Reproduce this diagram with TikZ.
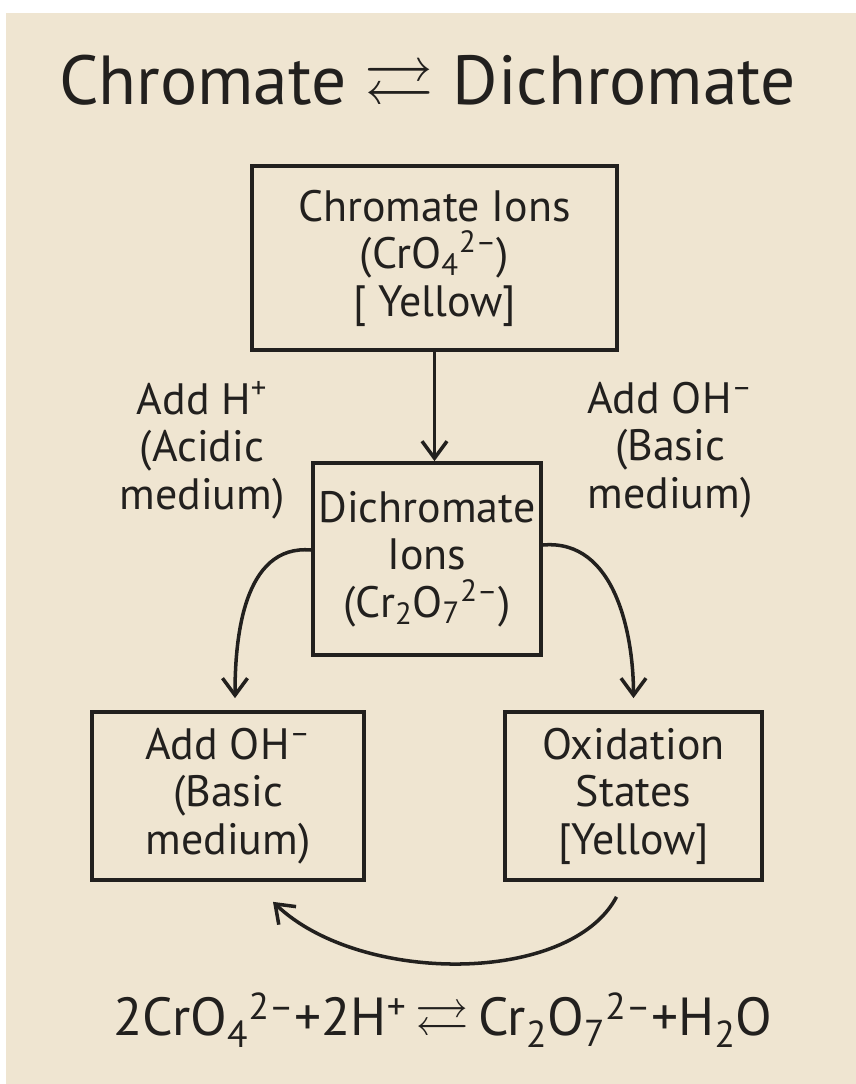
\documentclass[tikz,border=0pt]{standalone}
\usepackage{fontspec}
\usepackage{amssymb}
\setmainfont{PT Sans}
\usetikzlibrary{arrows.meta}

\definecolor{paper}{RGB}{239,229,209}
\definecolor{ink}{RGB}{34,32,30}

% subscript followed by the charge
\newcommand{\chg}[2]{\textsubscript{#1}\textsuperscript{#2}}

\begin{document}
\begin{tikzpicture}[>={Straight Barb[length=3.4mm,width=5mm]}]
		\tikzstyle{every node} = [font = \fontsize{25}{27}\selectfont, text = ink, align = center]
		\tikzstyle{ionbox} = [draw = ink, line width = 2.1pt, inner sep = 0pt]
		\tikzstyle{link} = [draw = ink, line width = 2pt, ->]

		\useasboundingbox (0,0) rectangle (17.12,-21.68);
		\fill[paper] (0.12,-0.26) rectangle (17.12,-21.68);

		% title
		\node (title) at (8.55,-1.72) {\fontsize{39.5}{41}\selectfont Chromate $\rightleftarrows$ Dichromate};

		% boxes
		\node[ionbox, minimum width = 7.3cm, minimum height = 3.68cm] (chromate) at (8.69,-5.16)
			{Chromate Ions\\(CrO\chg{4}{2--})\\{[} Yellow]};
		\node[ionbox, minimum width = 4.56cm, minimum height = 3.84cm] (dichromate) at (8.54,-11.18)
			{Dichromate\\Ions\\(Cr\textsubscript{2}O\chg{7}{2--})};
		\node[ionbox, minimum width = 5.44cm, minimum height = 3.36cm] (basic) at (4.56,-15.92)
			{Add OH\textsuperscript{--}\\(Basic\\medium)};
		\node[ionbox, minimum width = 5.14cm, minimum height = 3.36cm] (oxid) at (12.67,-15.92)
			{Oxidation\\States\\{[}Yellow]};

		% side labels
		\node (acid) at (4.04,-9.0) {Add H\textsuperscript{+}\\(Acidic\\medium)};
		\node (base) at (13.4,-9.0) {Add OH\textsuperscript{--}\\(Basic\\medium)};

		% arrows
		\draw[link] (chromate.south) -- (chromate.south |- dichromate.north);
		\draw[link, shorten > = .24cm] ([yshift=.18cm]dichromate.west) to[out=175, in=90] ([xshift=.14cm]basic.north);
		\draw[link, shorten > = .24cm] ([yshift=.28cm]dichromate.east) to[out=5, in=90] (oxid.north);

		\coordinate (loopstart) at ([xshift=-.34cm, yshift=-.3cm]oxid.south);
		\coordinate (loopend) at ([xshift=.9cm, yshift=-.4cm]basic.south);
		\draw[link] (loopstart) .. controls (11.4,-19.7) and (7.2,-19.7) .. (loopend);

		% equation
		\node (eq) at (8.86,-20.4) {\fontsize{30.5}{33}\selectfont 2CrO\chg{4}{2--}+2H\textsuperscript{+}\,$\rightleftarrows$\,Cr\textsubscript{2}O\chg{7}{2--}+H\textsubscript{2}O};
	\end{tikzpicture}
\end{document}
